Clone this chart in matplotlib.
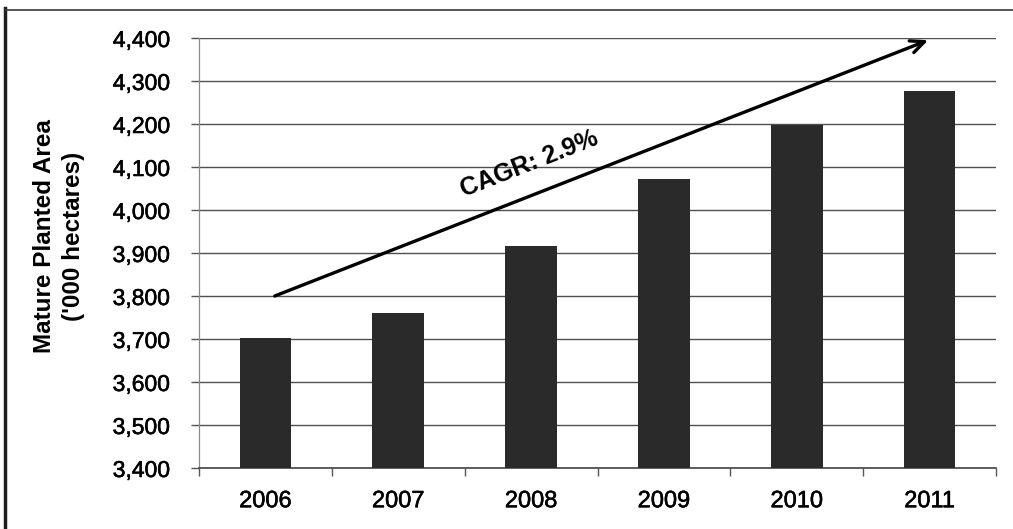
import numpy as np
import matplotlib
matplotlib.use('Agg')
import matplotlib.pyplot as plt
import matplotlib.patheffects as pe
from matplotlib.lines import Line2D
from matplotlib.ticker import FuncFormatter

# mature planted area by year, '000 hectares
years = ['2006', '2007', '2008', '2009', '2010', '2011']
area = [3702, 3761, 3916, 4072, 4198, 4277]
y_ticks = [3400, 3500, 3600, 3700, 3800, 3900, 4000, 4100, 4200, 4300, 4400]

# growth arrow (category index, value) and its label
arrow_start = (0.07, 3800)
arrow_end = (4.99, 4395)
cagr_label = 'CAGR: 2.9%'
cagr_pos = (1.99, 4108)

plt.rcParams['font.family'] = ['Liberation Sans', 'DejaVu Sans']

fig = plt.figure(figsize=(10.13, 5.29), dpi=100)
W, H = 1013, 529
ax = fig.add_axes([199 / W, 1 - 468 / H, (996 - 199) / W, (468 - 38) / H])

x = np.arange(len(years))
ax.bar(x, area, width=0.39, color='#2a2a2a', zorder=3)

ax.set_xlim(-0.5, len(years) - 0.5)
ax.set_ylim(y_ticks[0], y_ticks[-1])
ax.set_yticks(y_ticks)
ax.yaxis.set_major_formatter(FuncFormatter(lambda v, p: '{:,.0f}'.format(v)))
ax.grid(axis='y', color='#505050', lw=1.0, zorder=1)
ax.set_axisbelow(True)

for s in ['top', 'right']:
    ax.spines[s].set_visible(False)
ax.spines['left'].set_color('#8a8a8a')
ax.spines['left'].set_linewidth(0.9)
ax.spines['bottom'].set_color('#444444')
ax.spines['bottom'].set_linewidth(1.2)

ax.set_xticks(x)
ax.set_xticklabels(years)
ax.set_xticks(np.arange(-0.5, len(years)), minor=True)
ax.tick_params(axis='x', which='major', length=0, pad=16, labelsize=17)
ax.tick_params(axis='x', which='minor', length=6, width=1, color='#555555')
ax.tick_params(axis='y', length=6, width=1, color='#555555', pad=15, labelsize=16.5)

# slightly heavier strokes on the labels
heavy = [pe.withStroke(linewidth=0.4, foreground='black')]
for t in ax.get_xticklabels() + ax.get_yticklabels():
    t.set_path_effects(heavy)

fig.text(59 / W, 1 - 236 / H, "Mature Planted Area\n('000 hectares)",
         rotation=90, ha='center', va='center', multialignment='center',
         fontsize=17.5, fontweight='bold', linespacing=1.3)

ax.annotate('', xy=arrow_end, xytext=arrow_start,
            arrowprops=dict(arrowstyle='->, head_length=1.0, head_width=0.45',
                            lw=2.4, color='black', shrinkA=0, shrinkB=0),
            zorder=5)

p0 = ax.transData.transform(arrow_start)
p1 = ax.transData.transform(arrow_end)
angle = np.degrees(np.arctan2(p1[1] - p0[1], p1[0] - p0[0]))
ax.text(cagr_pos[0], cagr_pos[1], cagr_label, rotation=angle,
        rotation_mode='anchor', ha='center', va='center',
        fontsize=18, fontweight='bold', zorder=5)

# frame lines along the left and top edges
fig.add_artist(Line2D([5 / W, 5 / W], [0, 1 - 8 / H], transform=fig.transFigure,
                      color='#1e1e1e', lw=2.5))
fig.add_artist(Line2D([5 / W, 1], [1 - 10 / H, 1 - 10 / H], transform=fig.transFigure,
                      color='#3a3a3a', lw=1.2))

fig.savefig('out.png', dpi=100)
